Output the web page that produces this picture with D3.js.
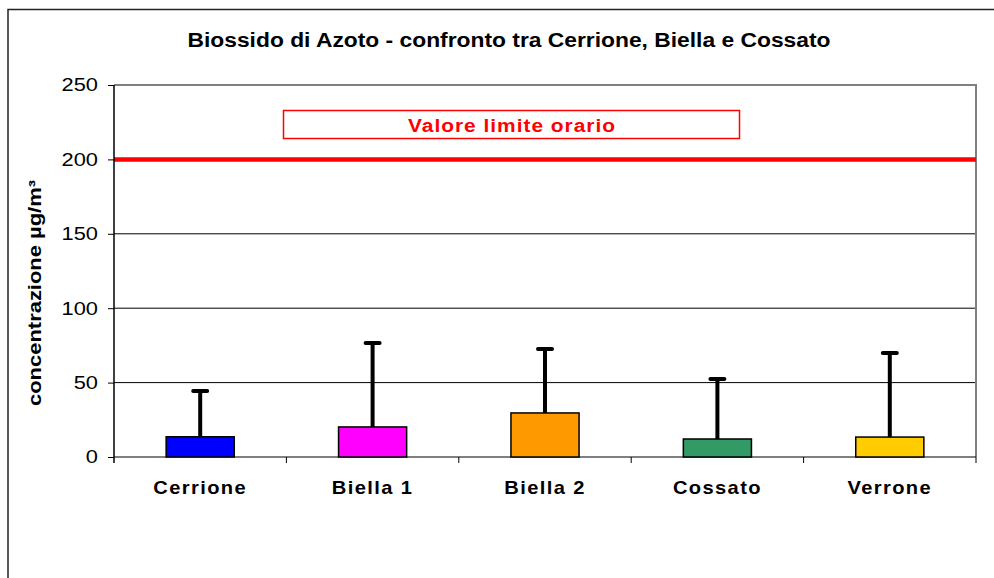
<!DOCTYPE html>
<html>
<head>
<meta charset="utf-8">
<script src="https://cdn.jsdelivr.net/npm/d3@7"></script>
<style>
  html, body { margin: 0; padding: 0; background: #fff; }
  svg { display: block; font-family: "Liberation Sans", Arial, sans-serif; }
</style>
</head>
<body>
<svg id="chart" width="994" height="578"></svg>
<script>
// ---- data ----
const categories = ["Cerrione", "Biella 1", "Biella 2", "Cossato", "Verrone"];
const meanValues = [13.6, 20.2, 29.6, 12.1, 13.4];
const maxValues  = [44.4, 76.6, 72.6, 52.4, 69.9];
const barColors  = ["#0000FF", "#FF00FF", "#FF9900", "#339966", "#FFCC00"];
const yTicks     = [0, 50, 100, 150, 200, 250];
const limitValue = 200;
const limitLabel = "Valore limite orario";
const titleText  = "Biossido di Azoto - confronto tra Cerrione, Biella e Cossato";
const yTitle     = "concentrazione µg/m³";

// ---- layout ----
const svg = d3.select("#chart");
const plot = { left: 114, right: 976, top: 85, bottom: 457 };

const x = d3.scaleBand().domain(categories).range([plot.left, plot.right]).paddingInner(0).paddingOuter(0);
const y = d3.scaleLinear().domain([0, 250]).range([plot.bottom, plot.top]);

// outer frame
svg.append("path")
  .attr("d", "M8,600V9.5H1000")
  .attr("fill", "none").attr("stroke", "#222").attr("stroke-width", 1.5);

// stretched text helper
function stext(parent, tx, ty, str, opts) {
  const g = parent.append("g")
    .attr("transform", `translate(${tx},${ty}) rotate(${opts.rotate || 0}) scale(${opts.sx || 1},1)`);
  const t = g.append("text")
    .attr("x", 0).attr("y", 0)
    .attr("text-anchor", opts.anchor || "middle")
    .attr("font-size", opts.size)
    .attr("font-weight", opts.bold ? "bold" : "normal")
    .attr("fill", opts.fill || "#000")
    .text(str);
  if (opts.dy) t.attr("dy", opts.dy);
  if (opts.ls) t.attr("letter-spacing", opts.ls);
  return t;
}

// title
stext(svg, 509, 47, titleText, { size: 19.5, bold: true, sx: 1.17 });

// gridlines
svg.append("g").selectAll("line")
  .data(yTicks.filter(d => d > 0 && d < 250))
  .join("line")
  .attr("x1", plot.left).attr("x2", plot.right)
  .attr("y1", d => y(d)).attr("y2", d => y(d))
  .attr("stroke", "#000").attr("stroke-width", 1);

// plot border (top & right, gray)
svg.append("path")
  .attr("d", `M${plot.left},${y(250)}H${plot.right}V${plot.bottom}`)
  .attr("fill", "none").attr("stroke", "#808080").attr("stroke-width", 2);

// limit line
svg.append("line")
  .attr("x1", plot.left).attr("x2", plot.right)
  .attr("y1", y(limitValue)).attr("y2", y(limitValue))
  .attr("stroke", "#FF0000").attr("stroke-width", 4.5);

// limit label box
svg.append("rect")
  .attr("x", 283.5).attr("y", 110.5).attr("width", 456).attr("height", 28)
  .attr("fill", "#fff").attr("stroke", "#FF0000").attr("stroke-width", 1.5);
stext(svg, 512, 132, limitLabel, { size: 19, bold: true, sx: 1.1, ls: 0.9, fill: "#FF0000" });

// y axis
const yAxis = d3.axisLeft(y).tickValues(yTicks).tickSize(6).tickFormat(d3.format("d"));
const yg = svg.append("g").attr("transform", `translate(${plot.left},0)`).call(yAxis);
yg.select(".domain").remove();
yg.selectAll(".tick line").attr("stroke", "#000").attr("stroke-width", 1);
yg.selectAll(".tick text").remove();
yg.append("line").attr("x1", 0).attr("x2", 0).attr("y1", y(250)).attr("y2", plot.bottom + 6)
  .attr("stroke", "#000").attr("stroke-width", 1.5);
yTicks.forEach(v => {
  stext(svg, 98, y(v), String(v), { size: 18.5, anchor: "end", sx: 1.18, dy: "0.35em" });
});

// y axis title
stext(svg, 41, 293, yTitle, { size: 18, bold: true, rotate: -90, sx: 1.22 });

// x axis
svg.append("line").attr("x1", plot.left).attr("x2", plot.right)
  .attr("y1", plot.bottom).attr("y2", plot.bottom)
  .attr("stroke", "#000").attr("stroke-width", 1.2);
const bounds = categories.map(c => x(c) + x.bandwidth());
svg.append("g").selectAll("line").data(bounds).join("line")
  .attr("x1", d => d).attr("x2", d => d)
  .attr("y1", plot.bottom).attr("y2", plot.bottom + 6)
  .attr("stroke", "#000").attr("stroke-width", 1);

categories.forEach(c => {
  stext(svg, x(c) + x.bandwidth() / 2, 494, c, { size: 17.5, bold: true, sx: 1.15, ls: 1.2 });
});

// bars
const barW = x.bandwidth() * 0.395;
svg.append("g").selectAll("rect")
  .data(categories)
  .join("rect")
  .attr("x", (c) => x(c) + x.bandwidth() / 2 - barW / 2)
  .attr("y", (c, i) => y(meanValues[i]))
  .attr("width", barW)
  .attr("height", (c, i) => y(0) - y(meanValues[i]))
  .attr("fill", (c, i) => barColors[i])
  .attr("stroke", "#000").attr("stroke-width", 1.5);

// error bars
const eg = svg.append("g").attr("stroke", "#000").attr("stroke-width", 4);
categories.forEach((c, i) => {
  const cx = x(c) + x.bandwidth() / 2;
  eg.append("line").attr("x1", cx).attr("x2", cx)
    .attr("y1", y(meanValues[i])).attr("y2", y(maxValues[i]));
  eg.append("line").attr("x1", cx - 7).attr("x2", cx + 7)
    .attr("y1", y(maxValues[i])).attr("y2", y(maxValues[i]))
    .attr("stroke-linecap", "round");
});
</script>
</body>
</html>
